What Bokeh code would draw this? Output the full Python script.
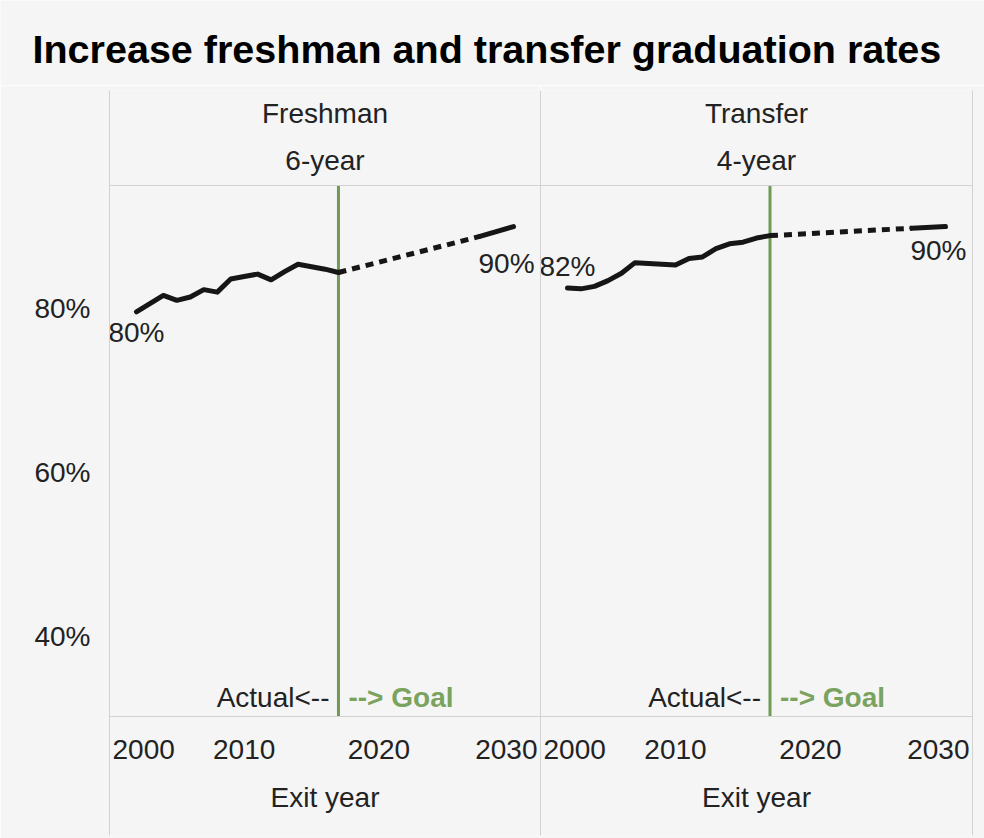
from bokeh.plotting import figure
from bokeh.models import Range1d, FixedTicker, LinearAxis, Span, PrintfTickFormatter
from bokeh.layouts import column, row
from bokeh.core.properties import value
from bokeh.embed import file_html
from bokeh.resources import INLINE

# ---------------- data ----------------
years = list(range(2002, 2018))
freshman_rate = [79.6, 80.6, 81.6, 81.0, 81.4, 82.3, 82.0, 83.6,
                 83.9, 84.2, 83.5, 84.5, 85.4, 85.1, 84.8, 84.4]
transfer_rate = [82.5, 82.4, 82.7, 83.4, 84.3, 85.6, 85.5, 85.4,
                 85.3, 86.1, 86.3, 87.3, 87.9, 88.1, 88.6, 88.9]
goal_years = [2017, 2027.5, 2030]
freshman_goal = [84.4, 88.8, 90.0]
transfer_goal = [88.9, 89.8, 90.0]
panel_names = ["Freshman", "Transfer"]
panel_subtitles = ["6-year", "4-year"]
x_ticks = [2000, 2010, 2020, 2030]
y_ticks = [40, 60, 80]
title_text = "Increase freshman and transfer graduation rates"
x_label = "Exit year"

# ---------------- style ----------------
FONT = "Liberation Sans"
BG = "#f5f5f5"
RULE = "#d2d2d2"
GREEN = "#6f9b55"
GREEN_TXT = "#7aa35f"
INK = "#161616"
TXT = "#222222"
FS = "28px"
LW = 5

# vertical layout: window pixel rows -> percent units of the panel frame
PX_PER_PT = 8.19
PY_80 = 308.0
def ypx(py):
    return 80 - (py - PY_80) / PX_PER_PT

Y_TOP = ypx(90)
Y_BOTTOM = ypx(835)
HEAD1_Y = ypx(113)
HEAD2_Y = ypx(160)
TOP_RULE_Y = ypx(185)
MARK_Y = ypx(697)
BASE_RULE_Y = ypx(716)
TICK_Y = ypx(749)
XLAB_Y = ypx(797)
X_START, X_END = 2000, 2032


def no_label_axis():
    return LinearAxis(ticker=FixedTicker(ticks=[]), axis_line_color=RULE,
                      major_tick_out=0, major_tick_in=0, minor_tick_out=0, minor_tick_in=0,
                      major_label_standoff=0, major_label_text_font_size="0px")


def make_panel(name, sub, actual, goal, width, mb_left, mb_right, first, start_label_dy, end_label_dy):
    p = figure(width=width, height=753, x_range=Range1d(X_START, X_END),
               y_range=Range1d(Y_BOTTOM, Y_TOP), output_backend="svg",
               toolbar_location=None, x_axis_location=None, y_axis_location=None,
               min_border_left=mb_left, min_border_right=mb_right,
               min_border_top=5, min_border_bottom=3,
               background_fill_color=BG, border_fill_color=BG, outline_line_color=None)
    p.xgrid.visible = False
    p.ygrid.visible = False

    if first:
        ax = LinearAxis(ticker=FixedTicker(ticks=y_ticks),
                        formatter=PrintfTickFormatter(format="%d%%"),
                        axis_line_color=RULE, major_tick_line_color=None,
                        minor_tick_line_color=None, major_tick_out=0, major_tick_in=0,
                        minor_tick_out=0, minor_tick_in=0, major_label_standoff=19,
                        major_label_text_font=FONT, major_label_text_font_size=FS,
                        major_label_text_color=TXT)
        p.add_layout(ax, "left")
    else:
        p.add_layout(no_label_axis(), "left")
        p.add_layout(no_label_axis(), "right")

    p.add_layout(Span(location=TOP_RULE_Y, dimension="width", line_color=RULE, line_width=1))
    p.add_layout(Span(location=BASE_RULE_Y, dimension="width", line_color=RULE, line_width=1))

    # actual / goal divider
    split = years[-1]
    p.segment(x0=[split], x1=[split], y0=[BASE_RULE_Y], y1=[TOP_RULE_Y],
              line_color=GREEN, line_width=3)

    # series
    p.line(years, actual, line_color=INK, line_width=LW, line_join="round", line_cap="round")
    p.line(goal_years[:2], goal[:2], line_color=INK, line_width=LW, line_dash="8 6",
           line_cap="butt")
    p.line(goal_years[1:], goal[1:], line_color=INK, line_width=LW, line_cap="round")

    # value labels
    p.text(x=[years[0]], y=[actual[0]], text=[f"{round(actual[0])}%"],
           text_align="center", text_baseline="middle", y_offset=start_label_dy,
           text_font=value(FONT), text_font_size=FS, text_color=TXT)
    p.text(x=[goal_years[-1]], y=[goal[-1]], text=[f"{round(goal[-1])}%"],
           text_align="right", text_baseline="middle", x_offset=21, y_offset=end_label_dy,
           text_font=value(FONT), text_font_size=FS, text_color=TXT)

    # header
    mid = (X_START + X_END) / 2
    p.text(x=[mid, mid], y=[HEAD1_Y, HEAD2_Y], text=[name, sub], text_align="center",
           text_baseline="middle", text_font=value(FONT), text_font_size=FS, text_color=TXT)

    # actual / goal marker text
    p.text(x=[split], y=[MARK_Y], text=["Actual<--"], text_align="right",
           text_baseline="middle", x_offset=-9, text_font=value(FONT),
           text_font_size=FS, text_color=TXT)
    p.text(x=[split], y=[MARK_Y], text=["--> Goal"], text_align="left",
           text_baseline="middle", x_offset=10, text_font=value(FONT),
           text_font_size=FS, text_font_style="bold", text_color=GREEN_TXT)

    # x tick labels (edge labels kept inside the panel)
    aligns = ["left"] + ["center"] * (len(x_ticks) - 2) + ["right"]
    xs = [X_START] + x_ticks[1:-1] + [X_END]
    offs = [3] + [0] * (len(x_ticks) - 2) + [-3]
    for xv, lab, al, off in zip(xs, x_ticks, aligns, offs):
        p.text(x=[xv], y=[TICK_Y], text=[str(lab)], text_align=al, x_offset=off,
               text_baseline="middle", text_font=value(FONT), text_font_size=FS,
               text_color=TXT)
    p.text(x=[mid], y=[XLAB_Y], text=[x_label], text_align="center",
           text_baseline="middle", text_font=value(FONT), text_font_size=FS, text_color=TXT)
    return p


left = make_panel(panel_names[0], panel_subtitles[0], freshman_rate, freshman_goal,
                  540, 109, 0, True, 21, 37)
right = make_panel(panel_names[1], panel_subtitles[1], transfer_rate, transfer_goal,
                   444, 0, 12, False, -22, 24)

head = figure(width=984, height=85, x_range=Range1d(0, 984), y_range=Range1d(85, 0),
              output_backend="svg", toolbar_location=None, x_axis_location=None,
              y_axis_location=None, min_border=0, background_fill_color=BG,
              border_fill_color=BG, outline_line_color=None)
head.xgrid.visible = False
head.ygrid.visible = False
head.text(x=[32], y=[48], text=[title_text], text_align="left", text_baseline="middle",
          text_font=value(FONT), text_font_size="39.5px", text_font_style="bold",
          text_color="#000000")

layout = column(head, row(left, right, spacing=0), spacing=0)
open("out.html", "w").write(file_html(layout, INLINE))
